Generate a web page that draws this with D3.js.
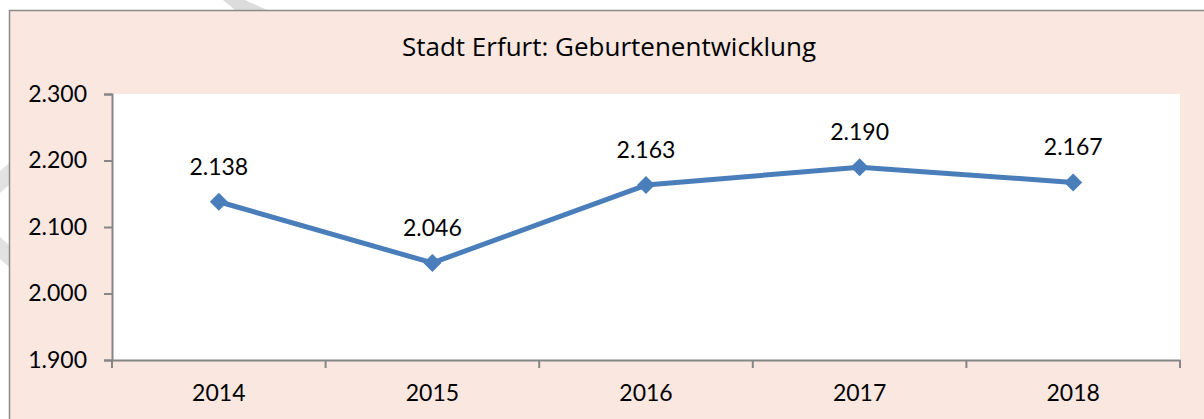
<!DOCTYPE html>
<html>
<head>
<meta charset="utf-8">
<script src="https://cdn.jsdelivr.net/npm/d3@7"></script>
<style>
html,body{margin:0;padding:0;background:#fff;}
svg{display:block;}
</style>
</head>
<body>
<svg id="chart" width="1204" height="419"></svg>
<script>
const title = "Stadt Erfurt: Geburtenentwicklung";
const years = ["2014", "2015", "2016", "2017", "2018"];
const births = [2138, 2046, 2163, 2190, 2167];
const yTicks = [1900, 2000, 2100, 2200, 2300];

(function () {
const W = 1204, H = 419;
const svg = d3.select("#chart");
const fmt = d3.formatLocale({decimal: ",", thousands: ".", grouping: [3], currency: ["", " €"]}).format(",d");
const numFont = "Lato, 'Liberation Sans', Arial, sans-serif";

// watermark strokes
svg.append("polygon").attr("points", "223,0 245,0 267,10 235,10").attr("fill", "#dcdcdc");
svg.append("polygon").attr("points", "9,163 9,185 0,193 0,171").attr("fill", "#e2e2e2");
svg.append("polygon").attr("points", "9,245 9,267 0,259 0,237").attr("fill", "#e2e2e2");

// chart area background and border
svg.append("rect").attr("x", 9.5).attr("y", 10.5).attr("width", W).attr("height", H)
  .attr("fill", "#f9e7e0").attr("stroke", "#8c8c8c").attr("stroke-width", 1.5);

const mLeft = 112, mRight = 1180, mTop = 94, mBottom = 360;

svg.append("rect").attr("x", mLeft).attr("y", mTop).attr("width", mRight - mLeft).attr("height", mBottom - mTop).attr("fill", "#fff");

const x = d3.scaleBand().domain(years).range([mLeft, mRight]);
const y = d3.scaleLinear().domain([1900, 2300]).range([mBottom, mTop]);

// y axis
const yAxis = svg.append("g").attr("transform", `translate(${mLeft},0)`)
  .call(d3.axisLeft(y).tickValues(yTicks).tickFormat(fmt).tickSize(8).tickPadding(17));
yAxis.select(".domain").attr("stroke", "#868686").attr("stroke-width", 2);
yAxis.selectAll(".tick line").attr("stroke", "#868686").attr("stroke-width", 2);
yAxis.selectAll(".tick text").attr("font-family", numFont).attr("font-size", 23).attr("fill", "#000");

// x axis
const xAxis = svg.append("g").attr("transform", `translate(0,${mBottom})`)
  .call(d3.axisBottom(x).tickSize(0).tickPadding(25));
xAxis.select(".domain").attr("stroke", "#868686").attr("stroke-width", 2);
xAxis.selectAll(".tick text").attr("font-family", numFont).attr("font-size", 23).attr("fill", "#000");
// category boundary ticks
const bounds = years.map(d => x(d)).concat([x(years[years.length - 1]) + x.bandwidth()]);
svg.append("g").selectAll("line").data(bounds).join("line")
  .attr("x1", d => d).attr("x2", d => d).attr("y1", mBottom).attr("y2", mBottom + 8)
  .attr("stroke", "#868686").attr("stroke-width", 2);

const cx = d => x(d) + x.bandwidth() / 2;

// line
const data = years.map((d, i) => ({year: d, v: births[i]}));
svg.append("path").datum(data)
  .attr("d", d3.line().x(d => cx(d.year)).y(d => y(d.v)))
  .attr("fill", "none").attr("stroke", "#4a7ebb").attr("stroke-width", 5).attr("stroke-linejoin", "round");

// markers
svg.append("g").selectAll("path").data(data).join("path")
  .attr("transform", d => `translate(${cx(d.year)},${y(d.v)})`)
  .attr("d", "M0,-9L9,0L0,9L-9,0Z")
  .attr("fill", "#4a7ebb");

// labels
svg.append("g").selectAll("text").data(data).join("text")
  .attr("x", d => cx(d.year)).attr("y", d => y(d.v) - 27)
  .attr("text-anchor", "middle")
  .attr("font-family", numFont).attr("font-size", 23).attr("fill", "#000")
  .text(d => fmt(d.v));

// title
svg.append("text").attr("x", 609).attr("y", 56).attr("text-anchor", "middle")
  .attr("font-family", "'Open Sans', 'Noto Sans', sans-serif").attr("font-size", 26).attr("font-weight", 500).attr("fill", "#000")
  .text(title);
})();
</script>
</body>
</html>
